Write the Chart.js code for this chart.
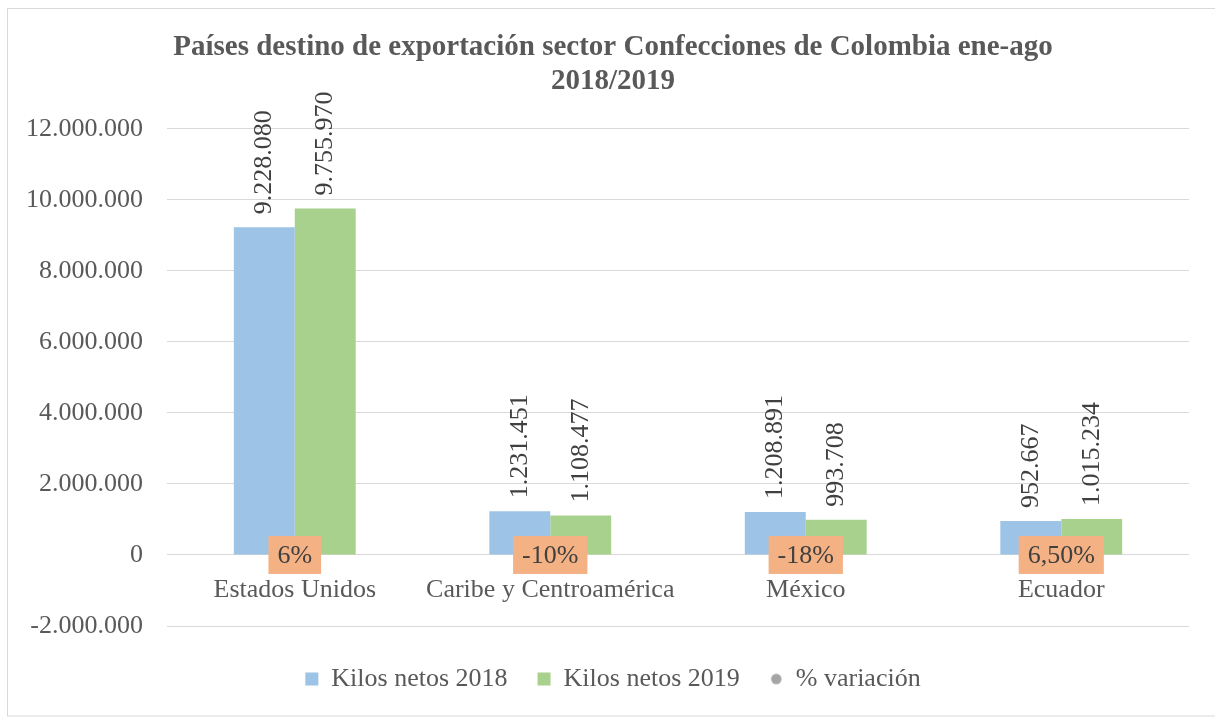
<!DOCTYPE html>
<html>
<head>
<meta charset="utf-8">
<script src="https://cdn.jsdelivr.net/npm/chart.js@4.4.1/dist/chart.umd.min.js"></script>
<style>
  html, body { margin: 0; padding: 0; background: #ffffff; }
  #wrap { width: 1215px; height: 717px; position: relative; }
</style>
</head>
<body>
<div id="wrap"><canvas id="c" width="1215" height="717"></canvas></div>
<script>
const categories = ['Estados Unidos', 'Caribe y Centroamérica', 'México', 'Ecuador'];
const kilos2018 = [9228080, 1231451, 1208891, 952667];
const kilos2019 = [9755970, 1108477, 993708, 1015234];
const variacion = [0.06, -0.10, -0.18, 0.065];
const variacionLabels = ['6%', '-10%', '-18%', '6,50%'];
const seriesNames = ['Kilos netos 2018', 'Kilos netos 2019', '% variación'];
const titleLines = ['Países destino de exportación sector Confecciones de Colombia ene-ago', '2018/2019'];
const yMin = -2000000, yMax = 12000000, yStep = 2000000;

const FONT = "'Liberation Serif', 'Times New Roman', serif";

function fmtNum(v) {
  const s = Math.abs(Math.round(v)).toString().replace(/\B(?=(\d{3})+(?!\d))/g, '.');
  return (v < 0 ? '-' : '') + s;
}

// small legend marker: grey circle
const circleMarker = document.createElement('canvas');
circleMarker.width = 13; circleMarker.height = 13;
(function () {
  const g = circleMarker.getContext('2d');
  g.fillStyle = '#A5A5A5';
  g.beginPath(); g.arc(6.5, 6.5, 5.2, 0, Math.PI * 2); g.fill();
})();

const frame = {
  id: 'frame',
  beforeDraw(chart) {
    // let the y tick labels extend into the left padding (no clipping)
    if (chart.scales.y) chart.scales.y._computeLabelArea = function () { return undefined; };
    const ctx = chart.ctx;
    ctx.save();
    ctx.fillStyle = '#ffffff';
    ctx.fillRect(0, 0, chart.width, chart.height);
    ctx.strokeStyle = '#D9D9D9';
    ctx.lineWidth = 1;
    ctx.strokeRect(7.5, 8.5, 1215, 707.5);
    ctx.restore();
  }
};

const labelsPlugin = {
  id: 'labelsPlugin',
  afterDatasetsDraw(chart) {
    const ctx = chart.ctx;
    ctx.save();
    ctx.font = '26px ' + FONT;
    // rotated value labels above bars
    [0, 1].forEach(di => {
      const meta = chart.getDatasetMeta(di);
      const data = chart.data.datasets[di].data;
      meta.data.forEach((el, i) => {
        ctx.save();
        ctx.translate(el.x, el.y - 13);
        ctx.rotate(-Math.PI / 2);
        ctx.fillStyle = '#404040';
        ctx.textAlign = 'left';
        ctx.textBaseline = 'middle';
        ctx.fillText(fmtNum(data[i]), 0, 0);
        ctx.restore();
      });
    });
    // % variation boxes
    const meta = chart.getDatasetMeta(2);
    meta.data.forEach((el, i) => {
      const txt = variacionLabels[i];
      const w = ctx.measureText(txt).width + 18;
      const h = 38;
      ctx.fillStyle = '#F4B183';
      ctx.fillRect(el.x - w / 2, el.y - h / 2, w, h);
      ctx.fillStyle = '#404040';
      ctx.textAlign = 'center';
      ctx.textBaseline = 'middle';
      ctx.fillText(txt, el.x, el.y + 1);
    });
    ctx.restore();
  }
};

new Chart(document.getElementById('c'), {
  type: 'bar',
  data: {
    labels: categories,
    datasets: [
      { label: seriesNames[0], data: kilos2018, backgroundColor: '#9DC3E6', borderWidth: 0, pointStyle: 'rect',
        categoryPercentage: 0.477, barPercentage: 1.0 },
      { label: seriesNames[1], data: kilos2019, backgroundColor: '#A9D18E', borderWidth: 0, pointStyle: 'rect',
        categoryPercentage: 0.477, barPercentage: 1.0 },
      { label: seriesNames[2], type: 'line', data: variacion, showLine: false, pointRadius: 0, pointHoverRadius: 0,
        pointStyle: circleMarker, backgroundColor: '#A5A5A5', borderColor: '#A5A5A5' }
    ]
  },
  options: {
    responsive: false,
    animation: false,
    devicePixelRatio: 1,
    layout: { padding: { left: 37, right: 26, top: 0, bottom: 15 } },
    scales: {
      x: {
        position: { y: 0 },
        grid: { display: false, drawTicks: false },
        border: { display: false },
        ticks: { color: '#595959', font: { family: FONT, size: 26 }, padding: 20, maxRotation: 0, autoSkip: false }
      },
      y: {
        min: yMin, max: yMax,
        grid: { color: '#D9D9D9', drawTicks: false, lineWidth: 1 },
        border: { display: false },
        ticks: { stepSize: yStep, color: '#595959', font: { family: FONT, size: 26 }, padding: 24,
                 callback: v => fmtNum(v) },
        afterFit(scale) { scale.width = 130; }
      }
    },
    plugins: {
      title: {
        display: true,
        text: titleLines,
        color: '#595959',
        font: { family: FONT, size: 29, weight: 'bold', lineHeight: 1.15 },
        padding: { top: 31, bottom: 31 }
      },
      legend: {
        position: 'bottom',
        title: { display: true, text: '', font: { size: 1, lineHeight: 1 }, padding: { top: 9, bottom: 0 } },
        labels: {
          usePointStyle: true, boxWidth: 13, boxHeight: 13, padding: 30,
          color: '#595959', font: { family: FONT, size: 26 }
        }
      },
      tooltip: { enabled: false }
    }
  },
  plugins: [frame, labelsPlugin]
});
</script>
</body>
</html>
